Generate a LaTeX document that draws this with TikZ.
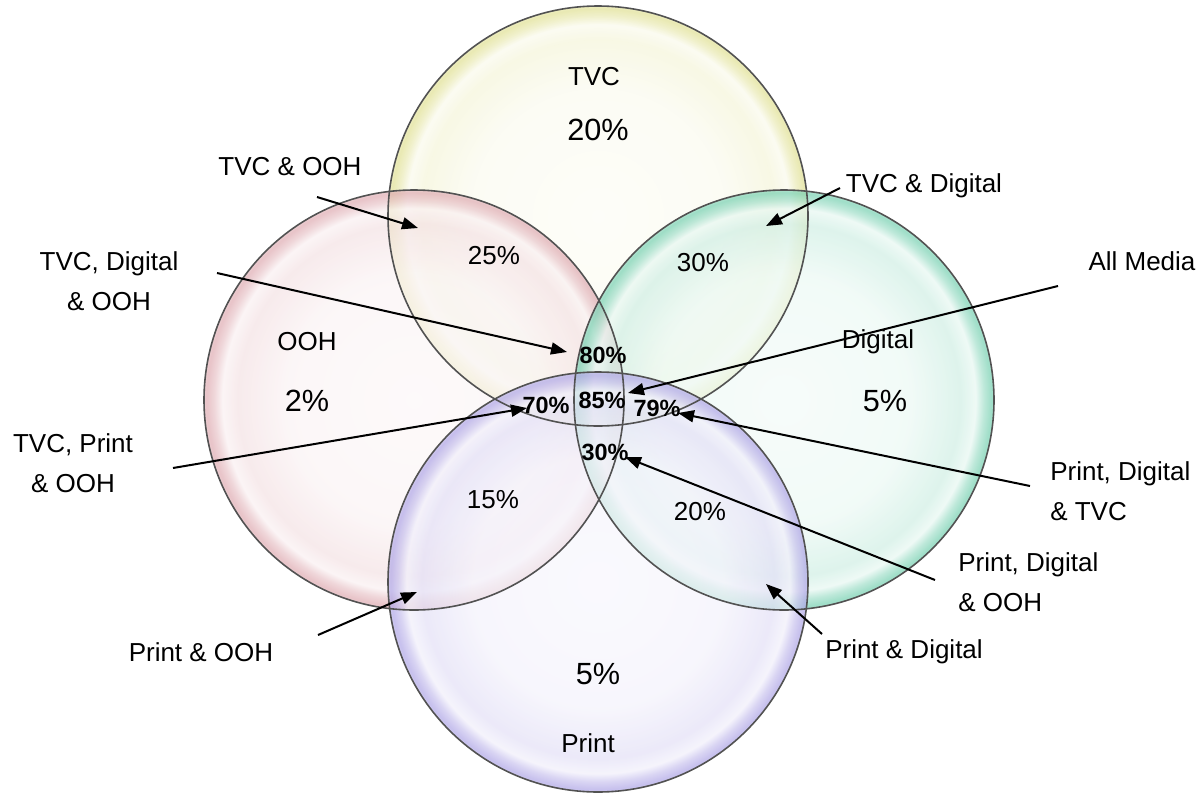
\documentclass[tikz,border=0pt]{standalone}
\usepackage{fontspec}
\setmainfont{Liberation Sans}
\usetikzlibrary{arrows.meta}

\definecolor{tvcyellow}{RGB}{222,222,140}
\definecolor{oohpink}{RGB}{220,165,172}
\definecolor{digitalgreen}{RGB}{110,205,172}
\definecolor{printviolet}{RGB}{170,160,228}

% bubble look: pale middle, tinted rim with a thin highlight inside it
\newcommand{\bubbleshading}[2]{%
  \pgfdeclareradialshading{#1}{\pgfpoint{0bp}{0bp}}{%
    color(0bp)=(#2!8!white); color(15bp)=(#2!13!white);
    color(21bp)=(#2!32!white); color(22.8bp)=(#2!16!white);
    color(23.8bp)=(#2!62!white); color(24.7bp)=(#2!92!white);
    color(25bp)=(#2!78!white); color(50bp)=(#2!78!white)}}
\bubbleshading{tvcbubble}{tvcyellow}
\bubbleshading{oohbubble}{oohpink}
\bubbleshading{digitalbubble}{digitalgreen}
\bubbleshading{printbubble}{printviolet}

\begin{document}
\begin{tikzpicture}[
    x=0.75pt, y=-0.75pt,
    bubble/.style={shading=#1, opacity=0.72},
    rim/.style={draw=black!68, line width=1.2pt},
    lbl/.style={font=\fontsize{19.5}{30}\selectfont, align=center, inner sep=0pt},
    big/.style={font=\fontsize{23}{28}\selectfont, inner sep=0pt},
    core/.style={font=\bfseries\fontsize{17.6}{20}\selectfont, inner sep=0pt},
    arrow/.style={-{Triangle[length=12pt,width=9pt]}, line width=1.5pt}
  ]
    \useasboundingbox (0,0) rectangle (1204,800);

    \coordinate (tvc) at (598,216);
    \coordinate (ooh) at (414,400);
    \coordinate (digital) at (784,400);
    \coordinate (print) at (598,582);

    \foreach \c/\s in {tvc/tvcbubble, ooh/oohbubble, digital/digitalbubble, print/printbubble}
      \shade[bubble=\s] (\c) circle[radius=157.5pt];
    \foreach \c in {tvc, ooh, digital, print}
      \draw[rim] (\c) circle[radius=157.5pt];

    % single media
    \node[lbl] (tvcName) at (594,77) {TVC};
    \node[big] (tvcOnly) at (598,130) {20\%};
    \node[lbl] (oohName) at (307,342) {OOH};
    \node[big] (oohOnly) at (307,401) {2\%};
    \node[lbl] (digitalName) at (878,342) {Digital};
    \node[big] (digitalOnly) at (885,401) {5\%};
    \node[big] (printOnly) at (598,674) {5\%};
    \node[lbl] (printName) at (588,743) {Print};

    % two media
    \node[lbl] (tvcOOHpct) at (494,256) {25\%};
    \node[lbl] (tvcDigitalpct) at (703,263) {30\%};
    \node[lbl] (printOOHpct) at (493,500) {15\%};
    \node[lbl] (printDigitalpct) at (700,512) {20\%};

    % three and four media
    \node[core] (p80) at (603,355) {80\%};
    \node[core] (p85) at (602,400) {85\%};
    \node[core] (p70) at (546,405) {70\%};
    \node[core] (p79) at (657,408) {79\%};
    \node[core] (p30) at (605,452) {30\%};

    % callouts
    \node[lbl] (tvcOOH) at (290,167) {TVC \& OOH};
    \node[lbl] (tvcDigital) at (924,186) {TVC \& Digital};
    \node[lbl] (tvcDigitalOOH) at (109,281) {TVC, Digital\\\& OOH};
    \node[lbl] (allMedia) at (1142,261) {All Media};
    \node[lbl] (tvcPrintOOH) at (73,463) {TVC, Print\\\& OOH};
    \node[lbl, anchor=west, align=left] (printDigitalTVC) at (1050,491) {Print, Digital\\\& TVC};
    \node[lbl, anchor=west, align=left] (printDigitalOOH) at (958,582) {Print, Digital\\\& OOH};
    \node[lbl] (printOOH) at (201,652) {Print \& OOH};
    \node[lbl] (printDigital) at (904,652) {Print \& Digital};

    \coordinate (tvcOOHfrom) at (317,197);
    \coordinate (tvcOOHto) at (418,228);
    \coordinate (tvcDigitalfrom) at (840,188);
    \coordinate (tvcDigitalto) at (766,226);
    \coordinate (tvcDigitalOOHfrom) at (217,273);
    \coordinate (tvcDigitalOOHto) at (567,352);
    \coordinate (allMediafrom) at (1058,286);
    \coordinate (allMediato) at (628,393);
    \coordinate (tvcPrintOOHfrom) at (173,468);
    \coordinate (tvcPrintOOHto) at (527,408);
    \coordinate (printDigitalTVCfrom) at (1030,486);
    \coordinate (printDigitalTVCto) at (678,413);
    \coordinate (printDigitalOOHfrom) at (935,580);
    \coordinate (printDigitalOOHto) at (625,457);
    \coordinate (printOOHfrom) at (318,635);
    \coordinate (printOOHto) at (417,592);
    \coordinate (printDigitalfrom) at (822,634);
    \coordinate (printDigitalto) at (766,584);

    \foreach \a in {tvcOOH, tvcDigital, tvcDigitalOOH, allMedia, tvcPrintOOH,
                    printDigitalTVC, printDigitalOOH, printOOH, printDigital}
      \draw[arrow] (\a from) -- (\a to);
  \end{tikzpicture}
\end{document}
